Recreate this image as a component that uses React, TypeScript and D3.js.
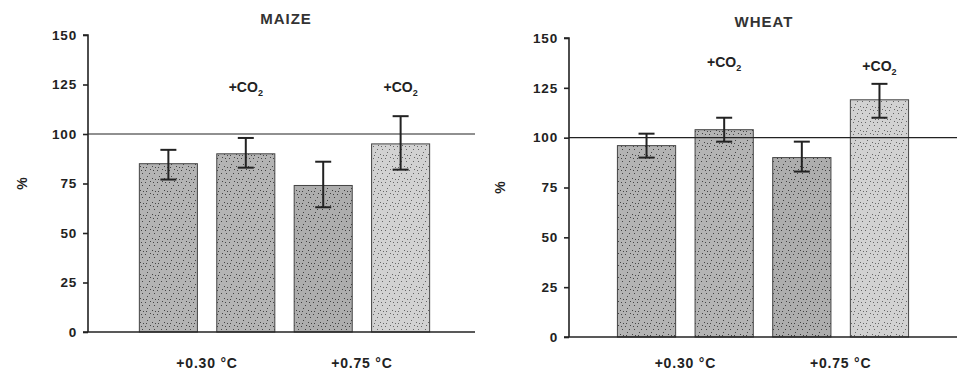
import { useEffect, useRef } from "react";
import * as d3 from "d3";

// categories (same order in both panels)
const categories = ["0.30", "0.30+CO2", "0.75", "0.75+CO2"];
const co2Flags = [false, true, false, true];
const groupLabels = ["+0.30 °C", "+0.75 °C"];
const yTicks = [0, 25, 50, 75, 100, 125, 150];

// maize
const maizeValues = [85, 90, 74, 95];
const maizeLow = [77, 83, 63, 82];
const maizeHigh = [92, 98, 86, 109];

// wheat
const wheatValues = [96, 104, 90, 119];
const wheatLow = [90, 98, 83, 110];
const wheatHigh = [102, 110, 98, 127];

const barFills = ["url(#dots-a)", "url(#dots-a)", "url(#dots-b)", "url(#dots-c)"];
const font = "Arial, 'Liberation Sans', sans-serif";

type PanelProps = {
  svg: d3.Selection<SVGSVGElement, unknown, null, undefined>;
  title: string;
  titleX: number;
  values: number[];
  low: number[];
  high: number[];
  axisX: number;
  xRange: [number, number];
  yRange: [number, number];
  lineEnd: number;
  pctX: number;
  co2Y: number[];
};

function drawPanel(p: PanelProps) {
  const { svg } = p;
  const x = d3.scaleBand().domain(categories).range(p.xRange).paddingInner(0.25).paddingOuter(0.25);
  const y = d3.scaleLinear().domain([0, 150]).range(p.yRange);
  const g = svg.append("g");

  // title
  g.append("text")
    .attr("x", p.titleX)
    .attr("y", p.yRange[1] - 11)
    .attr("text-anchor", "middle")
    .attr("font-family", font)
    .attr("font-weight", "bold")
    .attr("font-size", 15)
    .attr("letter-spacing", 1)
    .attr("fill", "#333")
    .text(p.title);

  // bars
  g.selectAll(".bar")
    .data(p.values)
    .join("rect")
    .attr("x", (d, i) => x(categories[i])!)
    .attr("y", (d) => y(d))
    .attr("width", x.bandwidth())
    .attr("height", (d) => y(0) - y(d))
    .attr("fill", (d, i) => barFills[i])
    .attr("stroke", "#444")
    .attr("stroke-width", 1);

  // 100 % reference line
  g.append("line")
    .attr("x1", p.axisX)
    .attr("x2", p.lineEnd)
    .attr("y1", y(100))
    .attr("y2", y(100))
    .attr("stroke", "#222")
    .attr("stroke-width", 1.2);

  // error bars
  const eb = g.selectAll(".err").data(p.values).join("g");
  const cx = (i: number) => x(categories[i])! + x.bandwidth() / 2;
  eb.append("line")
    .attr("x1", (d, i) => cx(i))
    .attr("x2", (d, i) => cx(i))
    .attr("y1", (d, i) => y(p.low[i]))
    .attr("y2", (d, i) => y(p.high[i]))
    .attr("stroke", "#222")
    .attr("stroke-width", 2);
  [p.low, p.high].forEach((arr) => {
    eb.append("line")
      .attr("x1", (d, i) => cx(i) - 8)
      .attr("x2", (d, i) => cx(i) + 8)
      .attr("y1", (d, i) => y(arr[i]))
      .attr("y2", (d, i) => y(arr[i]))
      .attr("stroke", "#222")
      .attr("stroke-width", 2);
  });

  // +CO2 labels
  categories.forEach((c, i) => {
    if (!co2Flags[i]) return;
    const t = g.append("text")
      .attr("x", cx(i))
      .attr("y", p.co2Y[i])
      .attr("text-anchor", "middle")
      .attr("font-family", font)
      .attr("font-weight", "bold")
      .attr("font-size", 14)
      .attr("fill", "#222");
    t.append("tspan").text("+CO");
    t.append("tspan").attr("font-size", 9).attr("dy", 4).text("2");
  });

  // axes
  const yAxis = d3.axisLeft(y).tickValues(yTicks).tickSize(5).tickPadding(6);
  const ya = g.append("g").attr("transform", `translate(${p.axisX},0)`).call(yAxis);
  ya.selectAll("text")
    .attr("font-family", font)
    .attr("font-weight", "bold")
    .attr("font-size", 13.5)
    .attr("letter-spacing", 0.8)
    .attr("fill", "#222");
  ya.selectAll("line,path").attr("stroke", "#222").attr("stroke-width", 1.6);
  ya.select(".domain").attr("d", `M-5,${p.yRange[1]}H0V${p.yRange[0]}`);

  g.append("line")
    .attr("x1", p.axisX - 5)
    .attr("x2", p.lineEnd)
    .attr("y1", y(0))
    .attr("y2", y(0))
    .attr("stroke", "#222")
    .attr("stroke-width", 1.6);

  // group labels under the bar pairs
  groupLabels.forEach((lab, k) => {
    const mid = (cx(k * 2) + cx(k * 2 + 1)) / 2;
    g.append("text")
      .attr("x", mid)
      .attr("y", 368)
      .attr("text-anchor", "middle")
      .attr("font-family", font)
      .attr("font-weight", "bold")
      .attr("font-size", 14)
      .attr("letter-spacing", 0.8)
      .attr("fill", "#222")
      .text(lab);
  });

  // y label
  g.append("text")
    .attr("transform", `translate(${p.pctX},${y(75)}) rotate(-90)`)
    .attr("text-anchor", "middle")
    .attr("dy", "0.35em")
    .attr("font-family", font)
    .attr("font-weight", "bold")
    .attr("font-size", 14)
    .attr("fill", "#222")
    .text("%");
}

function App() {
  const svgRef = useRef<SVGSVGElement>(null);

  useEffect(() => {
    const svg = d3.select(svgRef.current!);
    svg.selectAll("*").remove();

    // stipple patterns for the bars
    const defs = svg.append("defs");
    const pats = [
      { id: "dots-a", bg: "#b4b4b4", dot: "#444" },
      { id: "dots-b", bg: "#adadad", dot: "#3e3e3e" },
      { id: "dots-c", bg: "#d2d2d2", dot: "#666" },
    ];
    const dots = [[1, 2], [6, 1], [10, 5], [3, 8], [8, 10], [11, 11], [5, 5], [2, 11], [9, 2]];
    pats.forEach((pt) => {
      const pat = defs.append("pattern")
        .attr("id", pt.id)
        .attr("width", 12)
        .attr("height", 12)
        .attr("patternUnits", "userSpaceOnUse");
      pat.append("rect").attr("width", 12).attr("height", 12).attr("fill", pt.bg);
      dots.forEach(([dx, dy]) => {
        pat.append("rect").attr("x", dx).attr("y", dy).attr("width", 1).attr("height", 1).attr("fill", pt.dot);
      });
    });

    drawPanel({
      svg,
      title: "MAIZE",
      titleX: 286,
      values: maizeValues,
      low: maizeLow,
      high: maizeHigh,
      axisX: 88,
      xRange: [120, 449],
      yRange: [332, 35],
      lineEnd: 475,
      pctX: 22,
      co2Y: [0, 92, 0, 92],
    });
    drawPanel({
      svg,
      title: "WHEAT",
      titleX: 764,
      values: wheatValues,
      low: wheatLow,
      high: wheatHigh,
      axisX: 569,
      xRange: [598, 928],
      yRange: [337, 38],
      lineEnd: 957,
      pctX: 500,
      co2Y: [0, 67, 0, 71],
    });
  }, []);

  return (
    <svg
      ref={svgRef}
      width={957}
      height={376}
      style={{ position: "absolute", left: 0, top: 0, background: "#fff" }}
    ></svg>
  );
}

export default App;
